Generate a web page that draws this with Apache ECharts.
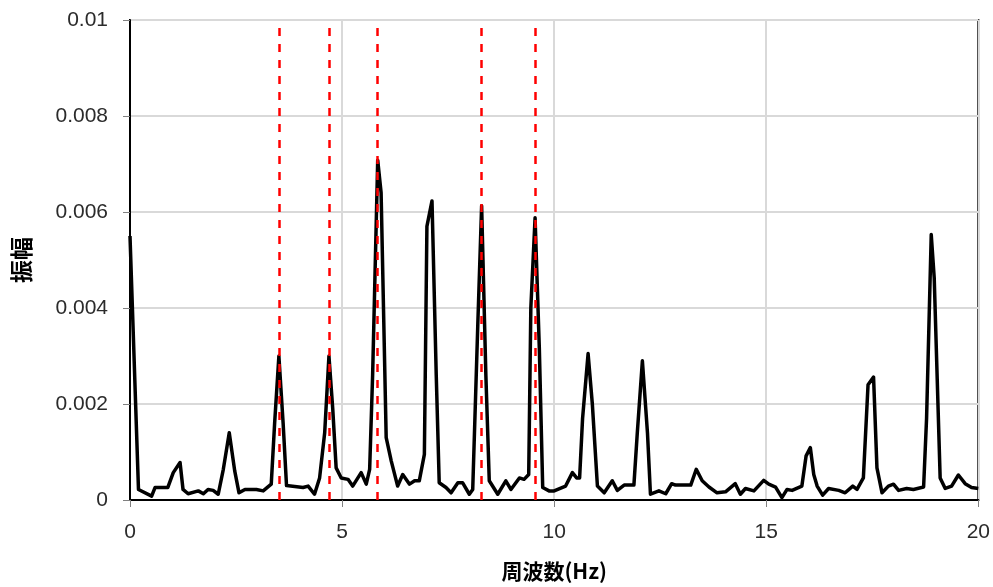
<!DOCTYPE html>
<html>
<head>
<meta charset="utf-8">
<script src="https://cdn.jsdelivr.net/npm/echarts@6/dist/echarts.min.js"></script>
<style>
  html, body { margin: 0; padding: 0; background: #fff; }
  #chart { width: 993px; height: 587px; }
</style>
</head>
<body>
<div id="chart"></div>
<script>
// Frequency bins (Hz) and spectrum amplitude
const freqHz = [
  0.00, 0.20, 0.51, 0.59, 0.89, 1.02, 1.18, 1.25, 1.37, 1.61, 1.73, 1.84, 1.96, 2.08,
  2.20, 2.34, 2.47, 2.57, 2.71, 2.98, 3.14, 3.33, 3.41, 3.51, 3.61, 3.69, 4.08, 4.20,
  4.35, 4.47, 4.59, 4.69, 4.78, 4.86, 4.98, 5.14, 5.25, 5.45, 5.57, 5.65, 5.72, 5.84,
  5.92, 6.04, 6.16, 6.31, 6.43, 6.59, 6.71, 6.82, 6.94, 7.00, 7.12, 7.22, 7.29, 7.45,
  7.57, 7.73, 7.84, 8.00, 8.08, 8.20, 8.29, 8.39, 8.47, 8.67, 8.86, 8.98, 9.18, 9.29,
  9.40, 9.45, 9.55, 9.65, 9.73, 9.88, 10.00, 10.27, 10.43, 10.53, 10.60, 10.67, 10.80,
  10.90, 11.02, 11.18, 11.37, 11.49, 11.65, 11.88, 11.96, 12.08, 12.20, 12.27, 12.47,
  12.63, 12.77, 12.86, 13.22, 13.35, 13.49, 13.65, 13.84, 14.04, 14.27, 14.39, 14.51,
  14.71, 14.94, 15.06, 15.22, 15.37, 15.49, 15.61, 15.84, 15.94, 16.04, 16.12, 16.20,
  16.33, 16.47, 16.71, 16.86, 17.04, 17.14, 17.29, 17.40, 17.53, 17.61, 17.73, 17.88,
  18.00, 18.12, 18.31, 18.47, 18.71, 18.78, 18.89, 18.96, 19.10, 19.22, 19.37, 19.53,
  19.69, 19.84, 20.00
];
const amplitude = [
  0.00550, 0.00022, 0.00008, 0.00026, 0.00026, 0.00057, 0.00078, 0.00022, 0.00013, 0.00019, 0.00013, 0.00022, 0.00020, 0.00012,
  0.00064, 0.00140, 0.00060, 0.00015, 0.00022, 0.00022, 0.00019, 0.00033, 0.00160, 0.00300, 0.00160, 0.00030, 0.00026, 0.00029,
  0.00012, 0.00046, 0.00140, 0.00300, 0.00190, 0.00067, 0.00046, 0.00043, 0.00029, 0.00057, 0.00033, 0.00064, 0.00260, 0.00708,
  0.00640, 0.00130, 0.00081, 0.00029, 0.00053, 0.00033, 0.00040, 0.00040, 0.00095, 0.00570, 0.00623, 0.00260, 0.00036, 0.00026,
  0.00015, 0.00036, 0.00036, 0.00012, 0.00022, 0.00366, 0.00613, 0.00260, 0.00040, 0.00012, 0.00040, 0.00022, 0.00046, 0.00043,
  0.00053, 0.00400, 0.00588, 0.00317, 0.00026, 0.00019, 0.00019, 0.00029, 0.00057, 0.00046, 0.00046, 0.00170, 0.00305,
  0.00200, 0.00029, 0.00015, 0.00040, 0.00020, 0.00031, 0.00031, 0.00140, 0.00290, 0.00140, 0.00012, 0.00019,
  0.00013, 0.00034, 0.00031, 0.00031, 0.00064, 0.00040, 0.00027, 0.00015, 0.00017, 0.00034, 0.00012, 0.00024,
  0.00019, 0.00041, 0.00033, 0.00027, 0.00005, 0.00022, 0.00020, 0.00029, 0.00092, 0.00109, 0.00053, 0.00029,
  0.00010, 0.00024, 0.00020, 0.00015, 0.00029, 0.00022, 0.00046, 0.00240, 0.00256, 0.00067, 0.00015, 0.00029,
  0.00033, 0.00020, 0.00024, 0.00022, 0.00027, 0.00170, 0.00553, 0.00463, 0.00046, 0.00024, 0.00029, 0.00052,
  0.00034, 0.00026, 0.00024
];
// Reference frequencies marked with dashed red lines
const markedFreqs = [3.51, 4.69, 5.84, 8.29, 9.55];

const xTitle = '周波数(Hz)';
const yTitle = '振幅';

const chart = echarts.init(document.getElementById('chart'), null, { renderer: 'canvas' });

const labelFont = { fontFamily: 'Liberation Sans', fontSize: 21, color: '#2b2b2b' };
const titleFont = { fontFamily: 'Noto Sans CJK JP', fontSize: 21, fontWeight: 'bold', color: '#000' };

chart.setOption({
  animation: false,
  backgroundColor: '#fff',
  grid: {
    left: 130, top: 20, right: 13, bottom: 87,
    show: true, borderColor: '#000', borderWidth: 2
  },
  xAxis: {
    type: 'value', min: 0, max: 20, interval: 5,
    name: xTitle, nameLocation: 'middle', nameGap: 61,
    nameTextStyle: titleFont,
    axisLine: { show: true, lineStyle: { color: '#000', width: 2 } },
    axisTick: { show: true, length: 7, lineStyle: { color: '#808080', width: 1 } },
    axisLabel: Object.assign({ margin: 22 }, labelFont),
    splitLine: { show: true, lineStyle: { color: '#d9d9d9', width: 2 } }
  },
  yAxis: {
    type: 'value', min: 0, max: 0.01, interval: 0.002,
    name: yTitle, nameLocation: 'middle', nameGap: 97, nameRotate: 90,
    nameTextStyle: Object.assign({}, titleFont, { fontSize: 23 }),
    axisLine: { show: true, lineStyle: { color: '#000', width: 2 } },
    axisTick: { show: true, length: 7, lineStyle: { color: '#808080', width: 1 } },
    axisLabel: Object.assign({
      margin: 22,
      formatter: v => String(+v.toFixed(3))
    }, labelFont),
    splitLine: { show: true, lineStyle: { color: '#d9d9d9', width: 2 } }
  },
  series: [{
    type: 'line',
    data: freqHz.map((f, i) => [f, amplitude[i]]),
    showSymbol: false,
    symbol: 'none',
    lineStyle: { color: '#000', width: 3.5, join: 'round' },
    markLine: {
      silent: true,
      symbol: ['none', 'none'],
      label: { show: false },
      lineStyle: { color: '#ff0000', width: 2.5, type: [8, 8] },
      data: markedFreqs.map(f => ({ xAxis: f }))
    }
  }]
});
</script>
</body>
</html>
